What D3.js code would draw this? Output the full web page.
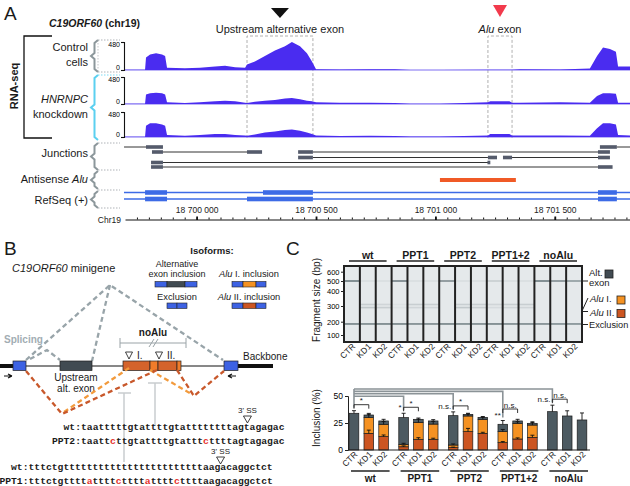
<!DOCTYPE html>
<html>
<head>
<meta charset="utf-8">
<script src="https://cdn.jsdelivr.net/npm/d3@7"></script>
<style>
  body { margin: 0; background: #fff; }
  svg { font-family: "Liberation Sans", Arial, sans-serif; }
  .mono { font-family: "Liberation Mono", "DejaVu Sans Mono", monospace; font-weight: bold; }
</style>
</head>
<body>
<svg id="fig" width="630" height="486"></svg>
<script>
// ---------------- Panel A data: RNA-seq coverage on chr19 (reads, scale 0-480)
const covPos = [18699700, 18699784, 18699788, 18699805, 18699830, 18699855, 18699868, 18699876,
  18699951, 18700014, 18700077, 18700119, 18700161, 18700203, 18700211, 18700244, 18700286,
  18700328, 18700370, 18700399, 18700433, 18700462, 18700483, 18700500, 18700600, 18700726,
  18700831, 18700894, 18701019, 18701220, 18701230, 18701310, 18701321, 18701354, 18701522,
  18701647, 18701677, 18701702, 18701731, 18701756, 18701765, 18701815];
const covControl = [5, 5, 216, 264, 288, 264, 240, 38, 29, 38, 58, 72, 48, 38, 96, 144, 240,
  336, 408, 480, 408, 288, 144, 14, 10, 14, 14, 0, 0, 5, 5, 5, 5, 14, 10, 24, 240, 384, 360, 312, 58, 58];
const covKD1 = [5, 5, 168, 192, 200, 192, 168, 29, 19, 29, 48, 58, 48, 24, 19, 38, 58,
  72, 96, 106, 86, 58, 48, 29, 24, 24, 19, 5, 5, 29, 48, 48, 24, 24, 29, 24, 144, 192, 192, 182, 24, 24];
const covKD2 = [5, 5, 216, 264, 264, 240, 216, 38, 24, 38, 58, 58, 38, 29, 24, 48, 86,
  106, 134, 144, 120, 86, 58, 29, 19, 24, 19, 10, 10, 29, 58, 58, 29, 29, 29, 24, 168, 264, 264, 240, 38, 29];
const covScaleTicks = [0, 480];

// junction reads: [row, start, end]
const junctionLines = [
  [0, 18699696, 18699796], [0, 18701760, 18701815],
  [1, 18699859, 18700211], [1, 18700487, 18701681],
  [2, 18700487, 18701220], [2, 18701321, 18701681],
  [3, 18699859, 18701224],
  [4, 18699859, 18701681]];
const junctionBlocks = [
  [0, 18699788, 18699859], [0, 18701689, 18701760],
  [1, 18699813, 18699859], [1, 18700211, 18700274], [1, 18700425, 18700487], [1, 18701681, 18701731],
  [2, 18700425, 18700487], [2, 18701220, 18701258], [2, 18701283, 18701321], [2, 18701681, 18701731],
  [3, 18699809, 18699859], [3, 18701218, 18701230],
  [4, 18699809, 18699859], [4, 18701681, 18701742]];
const antisenseAlu = [18701019, 18701337];
const refseqBlocks = [
  [0, 18699784, 18699876], [0, 18700278, 18700487], [0, 18701681, 18701760],
  [1, 18699784, 18699876], [1, 18700211, 18700487], [1, 18701681, 18701760]];
const exonBoxes = [[18700211, 18700487, "Upstream alternative exon"], [18701220, 18701321, "Alu exon"]];
const genomeTicks = [18700000, 18700500, 18701000, 18701500];

// ---------------- Panel C data
const groups = ["wt", "PPT1", "PPT2", "PPT1+2", "noAlu"];
const conditions = ["CTR", "KD1", "KD2"];
const gelSizeTicks = [100, 200, 300, 400, 500, 600];
// band intensity per lane (15 lanes, group order)
const bandAltExon = [0.85, 0.08, 0.08, 0.8, 0.08, 0.08, 0.7, 0.08, 0.08, 0.2, 0.08, 0.08, 0.85, 0.7, 0.6];
const bandAluI = [0, 0.2, 0.15, 0.05, 0.2, 0.2, 0, 0.2, 0.2, 0.15, 0.2, 0.2, 0, 0, 0];
const bandAluII = [0, 0.25, 0.2, 0.05, 0.15, 0.15, 0, 0.25, 0.2, 0.1, 0.15, 0.15, 0, 0, 0];
const bandExclusion = [0.8, 0.75, 0.8, 0.8, 0.75, 0.75, 0.8, 0.75, 0.75, 0.8, 0.75, 0.75, 0.75, 0.7, 0.7];
const bandSizes = [500, 310, 290, 183];
// inclusion (%) per isoform, 15 bars
const altExonPct = [34.0, 2.4, 3.1, 24.8, 2.8, 2.9, 27.2, 1.5, 1.8, 6.8, 2.2, 1.6, 35.5, 31.5, 27.8];
const aluIPct = [0, 14.6, 11.4, 2.2, 15.7, 14.1, 2.4, 14.5, 13.0, 10.2, 14.5, 11.4, 0, 0, 0];
const aluIIPct = [0, 15.4, 12.4, 3.0, 9.9, 9.9, 2.2, 17.0, 15.4, 6.8, 10.2, 11.7, 0, 0, 0];
const altExonErr = [2.4, 1.5, 1.5, 4.0, 1.2, 1.2, 3.5, 1.0, 0.8, 3.5, 1.5, 0.8, 6.0, 4.8, 6.5];
const aluIErr = [0, 3.0, 2.5, 1.0, 3.0, 2.5, 1.0, 2.0, 2.0, 2.0, 1.5, 3.0, 0, 0, 0];
const aluIIErr = [0, 3.0, 1.5, 0.8, 1.5, 1.0, 0.5, 3.0, 1.0, 1.0, 1.0, 2.0, 0, 0, 0];
const barTicks = [0, 25, 50];
const sigCtrVsWt = ["*", "n.s.", "**", "n.s."];      // PPT1, PPT2, PPT1+2, noAlu CTR vs wt CTR
const sigKd1VsCtr = ["*", "*", "*", "n.s.", "n.s."];  // KD1 vs CTR in each group

// ---------------- Panel B data
const seqPairs = [
  { label: ["wt:", "PPT2:"], seq: ["taatttttgtattttgtattttttttagtagagac", "taattcttgtattttgtatttcttttagtagagac"], ss: 28.6 },
  { label: ["wt:", "PPT1:"], seq: ["tttctgttttttttttttttttttttttttaagacaggctct", "tttctgttttattttcttttattttcttttaagacaggctct"], ss: 33 }];

const svg = d3.select("#fig");

function label(g, x, y, parts, opt) {
  opt = opt || {};
  var t = g.append("text").attr("x", x).attr("y", y)
    .attr("font-size", opt.size || 10)
    .attr("text-anchor", opt.anchor || "start")
    .attr("fill", opt.fill || "#1a1a1a");
  if (opt.weight) t.attr("font-weight", opt.weight);
  if (opt.transform) t.attr("transform", opt.transform);
  if (opt.cls) t.attr("class", opt.cls);
  (Array.isArray(parts) ? parts : [[parts]]).forEach(function (p) {
    var ts = t.append("tspan").text(p[0]);
    if (p[1] === "i") ts.attr("font-style", "italic");
    if (p[1] === "r") ts.attr("fill", "#e5322d");
  });
  return t;
}

// =============== PANEL A ===============
var A = svg.append("g");
label(A, 4, 20, "A", { size: 19 });
label(A, 49, 27, [["C19ORF60", "i"], [" (chr19)"]], { size: 10.5, weight: "bold" });

var gx = d3.scaleLinear().domain([18699700, 18701815]).range([125, 630]);

// RNA-seq bracket
A.append("path").attr("d", "M52,36H24V138H52").attr("fill", "none").attr("stroke", "#111").attr("stroke-width", 1.3);
label(A, 0, 0, "RNA-seq", { size: 11, weight: "bold", anchor: "middle", transform: "translate(18,86) rotate(-90)" });

// braces + dotted guides
function brace(y0, y1, col, dotted) {
  var ym = (y0 + y1) / 2;
  A.append("path").attr("d", "M98," + y0 + "L94.5," + (y0 + 3) + "L94.5," + (ym - 3) + "L91," + ym +
      "L94.5," + (ym + 3) + "L94.5," + (y1 - 3) + "L98," + y1)
    .attr("fill", "none").attr("stroke", col).attr("stroke-width", 2);
  dotted.forEach(function (yy) {
    A.append("line").attr("x1", 98).attr("x2", 120).attr("y1", yy).attr("y2", yy)
      .attr("stroke", col === "#5bd0f0" ? "#5bd0f0" : "#9aa0a4").attr("stroke-width", 0.8).attr("stroke-dasharray", "1.5,1.5");
  });
}
brace(40, 72, "#8c979b", [40, 72]);
A.append("line").attr("x1", 98).attr("x2", 98).attr("y1", 40).attr("y2", 72).attr("stroke", "#9aa0a4").attr("stroke-width", 0.6).attr("stroke-dasharray", "1.5,1.5");
brace(75, 140, "#5bd0f0", [75]);
brace(143, 170, "#8c979b", [143, 170]);
brace(171, 189, "#8c979b", [190]);
brace(191, 208, "#8c979b", [208]);

label(A, 88, 51, "Control", { size: 11, anchor: "end" });
label(A, 88, 66, "cells", { size: 11, anchor: "end" });
label(A, 88, 103, [["HNRNPC", "i"]], { size: 11, anchor: "end" });
label(A, 88, 118, "knockdown", { size: 11, anchor: "end" });
label(A, 88, 157, "Junctions", { size: 11, anchor: "end" });
label(A, 88, 183, [["Antisense "], ["Alu", "i"]], { size: 11, anchor: "end" });
label(A, 88, 204, "RefSeq (+)", { size: 11, anchor: "end" });

// dashed exon boxes (behind tracks)
exonBoxes.forEach(function (b, i) {
  var x0 = gx(b[0]), x1 = gx(b[1]);
  A.append("path").attr("d", "M" + x0 + ",138V36H" + x1 + "V138")
    .attr("fill", "none").attr("stroke", "#9c9c9c").attr("stroke-width", 0.8).attr("stroke-dasharray", "3,2");
  var cx = (x0 + x1) / 2;
  if (i === 0) {
    label(A, cx, 33, b[2], { size: 11, anchor: "middle" });
    A.append("path").attr("d", "M" + (cx - 9) + ",8L" + (cx + 9) + ",8L" + cx + ",18Z").attr("fill", "#111");
  } else {
    label(A, cx, 33, [["Alu", "i"], [" exon"]], { size: 11, anchor: "middle" });
    A.append("path").attr("d", "M" + (cx - 7) + ",5L" + (cx + 7) + ",5L" + cx + ",17Z").attr("fill", "#f23a4c");
  }
});

// coverage tracks
var tracks = [
  { vals: covControl, top: 42, base: 70 },
  { vals: covKD1, top: 77, base: 104 },
  { vals: covKD2, top: 112, base: 137 }];
tracks.forEach(function (t) {
  var y = d3.scaleLinear().domain([0, 480]).range([t.base, t.top]);
  var area = d3.area().x(function (d, i) { return gx(covPos[i]); }).y0(t.base).y1(function (d) { return y(d); });
  A.append("line").attr("x1", 125).attr("x2", 630).attr("y1", t.base).attr("y2", t.base)
    .attr("stroke", "#7d6cf2").attr("stroke-width", 1);
  A.append("path").datum(t.vals).attr("d", area).attr("fill", "#4a2cf0");
  var ax = A.append("g").attr("transform", "translate(124,0)")
    .call(d3.axisLeft(y).tickValues(covScaleTicks).tickSize(3).tickSizeOuter(3).tickPadding(1));
  ax.selectAll("text").attr("font-size", 7).attr("font-family", "Liberation Sans, Arial, sans-serif")
    .attr("dy", function (d) { return d === 0 ? "-0.1em" : "0.6em"; });
  ax.selectAll("path, line").attr("stroke", "#111").attr("stroke-width", 1.1);
});

// junctions
var jRowY = [147, 152, 157.5, 162.5, 167];
A.selectAll(".jl").data(junctionLines).enter().append("line")
  .attr("x1", function (d) { return gx(d[1]); }).attr("x2", function (d) { return gx(d[2]); })
  .attr("y1", function (d) { return jRowY[d[0]]; }).attr("y2", function (d) { return jRowY[d[0]]; })
  .attr("stroke", "#333").attr("stroke-width", 1);
A.selectAll(".jb").data(junctionBlocks).enter().append("rect")
  .attr("x", function (d) { return gx(d[1]); }).attr("width", function (d) { return gx(d[2]) - gx(d[1]); })
  .attr("y", function (d) { return jRowY[d[0]] - 1.8; }).attr("height", 3.6)
  .attr("fill", "#555b6b");

// antisense Alu
A.append("rect").attr("x", gx(antisenseAlu[0])).attr("width", gx(antisenseAlu[1]) - gx(antisenseAlu[0]))
  .attr("y", 178).attr("height", 4).attr("fill", "#f05a26");

// RefSeq
var rRowY = [192.5, 199];
rRowY.forEach(function (yy) {
  A.append("line").attr("x1", 124).attr("x2", 630).attr("y1", yy).attr("y2", yy).attr("stroke", "#3d6be6").attr("stroke-width", 1.3);
});
A.selectAll(".rb").data(refseqBlocks).enter().append("rect")
  .attr("x", function (d) { return gx(d[1]); }).attr("width", function (d) { return gx(d[2]) - gx(d[1]); })
  .attr("y", function (d) { return rRowY[d[0]] - 2.3; }).attr("height", 4.6).attr("fill", "#3d6be6");

// genome axis
var minorTicks = d3.range(18699750, 18701815, 50);
var gAxis = A.append("g").attr("transform", "translate(0,219.5)")
  .call(d3.axisTop(gx).tickValues(minorTicks).tickSize(2).tickSizeOuter(0).tickFormat(""));
gAxis.selectAll("path, line").attr("stroke", "#111");
var fmt = d3.format(",");
var gMaj = A.append("g").attr("transform", "translate(0,220)")
  .call(d3.axisTop(gx).tickValues(genomeTicks).tickSize(3.5).tickPadding(4)
    .tickFormat(function (d) { return fmt(d).replace(/,/g, " "); }));
gMaj.select(".domain").remove();
gMaj.selectAll("line").attr("stroke", "#111").attr("stroke-width", 1.8);
gMaj.selectAll("text").attr("font-size", 8.5).attr("font-family", "Liberation Sans, Arial, sans-serif").attr("fill", "#222");
label(A, 121, 223, "Chr19", { size: 8.5, anchor: "end" });

// =============== PANEL B ===============
var B = svg.append("g");
label(B, 4, 255, "B", { size: 19 });
label(B, 12, 272, [["C19ORF60", "i"], [" minigene"]], { size: 11 });
label(B, 212, 254, "Isoforms:", { size: 9.5, weight: "bold", anchor: "middle" });
label(B, 177, 267, "Alternative", { size: 9, anchor: "middle" });
label(B, 177, 277, "exon inclusion", { size: 9, anchor: "middle" });
label(B, 177, 299.5, "Exclusion", { size: 9.3, anchor: "middle" });
label(B, 249, 277, [["Alu", "i"], [" I. inclusion"]], { size: 9.3, anchor: "middle" });
label(B, 249, 299.5, [["Alu", "i"], [" II. inclusion"]], { size: 9.3, anchor: "middle" });

var COL = { blue: "#3d62e3", dark: "#414b52", aluI: "#f59222", aluII: "#cc5521", aluA: "#d4632b", aluB: "#f07c2a" };
function isoBar(y, segs) {
  segs.forEach(function (s) {
    B.append("rect").attr("x", s[0]).attr("y", y).attr("width", s[1] - s[0]).attr("height", 5.5)
      .attr("fill", COL[s[2]]).attr("stroke", "#222").attr("stroke-width", 0.6);
  });
}
isoBar(281.5, [[155, 167, "blue"], [167, 185, "dark"], [185, 197, "blue"]]);
isoBar(303, [[167, 177, "blue"], [177, 187, "blue"]]);
isoBar(281.5, [[232, 243, "blue"], [243, 256, "aluI"], [256, 266, "blue"]]);
isoBar(303, [[232, 243, "blue"], [243, 256, "aluII"], [256, 266, "blue"]]);

// splicing (grey dashed) behind the gene
function dashed(pts, col) {
  B.append("path").attr("d", d3.line()(pts)).attr("fill", "none").attr("stroke", col)
    .attr("stroke-width", 2.3).attr("stroke-dasharray", "5,3.2");
}
dashed([[26, 360], [110, 285], [223, 360]], "#98a4a9");
dashed([[110, 285], [92, 361]], "#98a4a9");
dashed([[30, 359], [47, 350], [60, 360]], "#98a4a9");
label(B, 4, 343, "Splicing", { size: 10, weight: "bold", fill: "#a2adb3" });

// noAlu bracket
B.append("path").attr("d", "M120,338V348M120,343H186M186,338V348").attr("stroke", "#9aa3a7").attr("stroke-width", 1).attr("fill", "none");
B.append("path").attr("d", "M149,347L154,339M153,347L158,339").attr("stroke", "#9aa3a7").attr("stroke-width", 1);
label(B, 153, 336, "noAlu", { size: 10, weight: "bold", anchor: "middle" });

// grey T lines
B.append("path").attr("d", "M124,393V462M118,393H131M155,383V425M148,383H162")
  .attr("stroke", "#c9cdcf").attr("stroke-width", 1.5).attr("fill", "none");

// gene model
B.append("line").attr("x1", 0).attr("x2", 273).attr("y1", 366).attr("y2", 366).attr("stroke", "#111").attr("stroke-width", 1);
B.append("rect").attr("x", 0).attr("y", 364).attr("width", 13).attr("height", 4).attr("fill", "#111");
B.append("rect").attr("x", 238).attr("y", 364).attr("width", 35).attr("height", 4).attr("fill", "#111");
[[13, 26, "blue"], [60, 92, "dark"], [123, 150, "aluA"], [150, 158, "aluB"], [158, 177, "aluA"], [177, 181, "aluB"], [224, 238, "blue"]]
  .forEach(function (s) {
    B.append("rect").attr("x", s[0]).attr("y", 361).attr("width", s[1] - s[0]).attr("height", 9.5)
      .attr("fill", COL[s[2]]).attr("stroke", "#222").attr("stroke-width", 0.7);
  });
// triangles I, II
[[129, "I."], [159, "II."]].forEach(function (t) {
  B.append("path").attr("d", "M" + (t[0] - 3.5) + ",352L" + (t[0] + 3.5) + ",352L" + t[0] + ",359Z")
    .attr("fill", "#fff").attr("stroke", "#111").attr("stroke-width", 0.8);
  label(B, t[0] + 8, 359, t[1], { size: 10 });
});
label(B, 243, 360, "Backbone", { size: 10 });
label(B, 76, 381, "Upstream", { size: 10, anchor: "middle" });
label(B, 76, 392, "alt. exon", { size: 10, anchor: "middle" });
// primer arrows
B.append("path").attr("d", "M4,376H12M12,376L8,374M12,376L8,378").attr("stroke", "#111").attr("stroke-width", 1.2).attr("fill", "none");
B.append("path").attr("d", "M236,376H228M228,376L232,374M228,376L232,378").attr("stroke", "#111").attr("stroke-width", 1.2).attr("fill", "none");

// orange splicing
dashed([[64, 412], [129, 368]], "#f29a3c");
dashed([[150, 370], [193, 395]], "#f29a3c");
dashed([[26, 371], [62, 414], [157, 370]], "#c8582b");
dashed([[177, 370], [194, 396], [224, 371]], "#c8582b");

// sequences
var charW = 9.7 * 0.6;
seqPairs.forEach(function (p, k) {
  var x0 = k === 0 ? 81 : 28.5;
  var yRows = k === 0 ? [430, 444] : [470, 484];
  var ssY = k === 0 ? 413 : 454;
  var ssX = x0 + p.ss * charW;
  label(B, ssX, ssY, "3' SS", { size: 8, anchor: "middle" });
  B.append("path").attr("d", "M" + (ssX - 4) + "," + (ssY + 3) + "L" + (ssX + 4) + "," + (ssY + 3) + "L" + ssX + "," + (ssY + 10) + "Z")
    .attr("fill", "#fff").attr("stroke", "#111").attr("stroke-width", 0.8);
  p.seq.forEach(function (s, r) {
    label(B, x0, yRows[r], p.label[r], { size: 9.7, anchor: "end", cls: "mono" });
    var parts = [];
    var ref = p.seq[0];
    for (var i = 0; i < s.length; i++) {
      var red = r === 1 && s[i] !== ref[i];
      if (parts.length && (parts[parts.length - 1][1] === "r") === red) parts[parts.length - 1][0] += s[i];
      else parts.push([s[i], red ? "r" : ""]);
    }
    label(B, x0, yRows[r], parts, { size: 9.7, cls: "mono" });
  });
});

// =============== PANEL C ===============
var C = svg.append("g");
label(C, 286, 255, "C", { size: 19 });

var lanes = [];
groups.forEach(function (g) { conditions.forEach(function (c) { lanes.push(g + "|" + c); }); });

// gel
var gelX = d3.scaleBand().domain(lanes).range([344, 582]);
var gelY = d3.scaleLinear().domain(gelSizeTicks).range([335, 321.7, 306, 291, 281, 271.7]);
C.append("rect").attr("x", 344).attr("y", 266).attr("width", 238).attr("height", 76).attr("fill", "#e5e9eb");
var bandSets = [bandAltExon, bandAluI, bandAluII, bandExclusion];
bandSets.forEach(function (arr, b) {
  C.selectAll(null).data(arr).enter().append("rect")
    .attr("x", function (d, i) { return gelX(lanes[i]); }).attr("width", gelX.bandwidth())
    .attr("y", gelY(bandSizes[b]) - 0.8).attr("height", 1.6)
    .attr("fill", "#56666b").attr("opacity", function (d) { return d; });
});
C.selectAll(".sep").data(lanes.slice(1)).enter().append("line")
  .attr("x1", function (d) { return gelX(d); }).attr("x2", function (d) { return gelX(d); })
  .attr("y1", 266).attr("y2", 342).attr("stroke", "#222").attr("stroke-width", 2);
C.append("rect").attr("x", 344).attr("y", 266).attr("width", 238).attr("height", 76)
  .attr("fill", "none").attr("stroke", "#222").attr("stroke-width", 2);
var gAx = C.append("g").attr("transform", "translate(344,0)")
  .call(d3.axisLeft(gelY).tickValues(gelSizeTicks).tickSize(3).tickPadding(1.5));
gAx.select(".domain").remove();
gAx.selectAll("text").attr("font-size", 7.5).attr("font-family", "Liberation Sans, Arial, sans-serif");
gAx.selectAll("line").attr("stroke", "#222");
label(C, 0, 0, "Fragment size (bp)", { size: 10, anchor: "middle", transform: "translate(320,300) rotate(-90)" });

// gel group headers
var gelGroupX = d3.scaleBand().domain(groups).range([344, 582]);
groups.forEach(function (g) {
  var x0 = gelGroupX(g), w = gelGroupX.bandwidth();
  label(C, x0 + w / 2, 258.5, g, { size: 10.5, weight: "bold", anchor: "middle" });
  C.append("line").attr("x1", x0 + 5).attr("x2", x0 + w - 5).attr("y1", 261).attr("y2", 261).attr("stroke", "#222").attr("stroke-width", 1.4);
});
lanes.forEach(function (l) {
  var cx = gelX(l) + gelX.bandwidth() / 2;
  label(C, 0, 0, l.split("|")[1], { size: 8.5, anchor: "end", transform: "translate(" + (cx + 4) + ",347) rotate(-45)" });
});

// gel right annotations
C.append("path").attr("d", "M582,281H588M582,311L588,298M582,311.5H588M582,324.5H588").attr("stroke", "#222").attr("stroke-width", 1).attr("fill", "none");
label(C, 589, 276, "Alt.", { size: 9.5 });
label(C, 589, 286, "exon", { size: 9.5 });
label(C, 590, 302, [["Alu", "i"], [" I."]], { size: 9.5 });
label(C, 590, 315.5, [["Alu", "i"], [" II."]], { size: 9.5 });
label(C, 589, 328, "Exclusion", { size: 9.2 });
[[605, 270, COL.dark], [617, 296, COL.aluI], [617, 309.5, COL.aluII]].forEach(function (s) {
  C.append("rect").attr("x", s[0]).attr("y", s[1]).attr("width", 8).attr("height", 8).attr("fill", s[2]).attr("stroke", "#222").attr("stroke-width", 0.8);
});

// bar chart
var bx = d3.scaleBand().domain(groups).range([344, 592]);
var bxi = d3.scaleBand().domain(conditions).range([0, bx.bandwidth()]).padding(0.35);
var by = d3.scaleLinear().domain([0, 50]).range([450, 396]);
var rows = lanes.map(function (l, i) {
  return { g: l.split("|")[0], c: l.split("|")[1], aluII: aluIIPct[i], aluI: aluIPct[i], alt: altExonPct[i] };
});
function barX(r) { return bx(r.g) + bxi(r.c); }
var stack = d3.stack().keys(["aluII", "aluI", "alt"])(rows);
var fills = { aluII: COL.aluII, aluI: COL.aluI, alt: "#4c5a61" };
var errs = { aluII: aluIIErr, aluI: aluIErr, alt: altExonErr };
stack.forEach(function (s) {
  C.selectAll(null).data(s).enter().filter(function (d) { return d[1] > d[0]; }).append("rect")
    .attr("x", function (d) { return barX(d.data); }).attr("width", bxi.bandwidth())
    .attr("y", function (d) { return by(d[1]); }).attr("height", function (d) { return by(d[0]) - by(d[1]); })
    .attr("fill", fills[s.key]).attr("stroke", "#1a1a1a").attr("stroke-width", 0.7);
});
stack.forEach(function (s) {
  s.forEach(function (d, i) {
    var e = errs[s.key][i];
    if (!(d[1] > d[0]) || !e) return;
    var cx = barX(d.data) + bxi.bandwidth() / 2;
    C.append("path").attr("d", "M" + cx + "," + by(d[1]) + "V" + by(d[1] + e) + "M" + (cx - 2) + "," + by(d[1] + e) + "H" + (cx + 2))
      .attr("stroke", "#111").attr("stroke-width", 0.9).attr("fill", "none");
  });
});
var yAx = C.append("g").attr("transform", "translate(348,0)").call(d3.axisLeft(by).tickValues(barTicks).tickSize(3).tickPadding(2));
yAx.selectAll("text").attr("font-size", 8.5).attr("font-family", "Liberation Sans, Arial, sans-serif");
yAx.selectAll("path, line").attr("stroke", "#222").attr("stroke-width", 1);
C.append("line").attr("x1", 348).attr("x2", 590).attr("y1", 450).attr("y2", 450).attr("stroke", "#222").attr("stroke-width", 1.2);
label(C, 0, 0, "Inclusion (%)", { size: 10, anchor: "middle", transform: "translate(320,418) rotate(-90)" });

rows.forEach(function (r) {
  var cx = barX(r) + bxi.bandwidth() / 2;
  label(C, 0, 0, r.c, { size: 8.5, anchor: "end", transform: "translate(" + (cx + 4) + ",455) rotate(-45)" });
});
groups.forEach(function (g) {
  var x0 = bx(g), w = bx.bandwidth();
  C.append("line").attr("x1", x0 + 7).attr("x2", x0 + w - 4).attr("y1", 471).attr("y2", 471).attr("stroke", "#222").attr("stroke-width", 1.4);
  label(C, x0 + w / 2 + 1.5, 482, g, { size: 10, weight: "bold", anchor: "middle" });
});

// significance
function topOf(i) { return altExonPct[i] + aluIPct[i] + aluIIPct[i] + altExonErr[i]; }
function cxOf(i) { return barX(rows[i]) + bxi.bandwidth() / 2; }
var wtX = cxOf(0);
C.append("line").attr("x1", wtX).attr("x2", wtX).attr("y1", 389).attr("y2", by(topOf(0)) - 3).attr("stroke", "#8b9397").attr("stroke-width", 1.6);
sigCtrVsWt.forEach(function (s, k) {
  var gi = (k + 1) * 3;
  var lvl = 389 + (3 - k) * 2.4;
  var tx = cxOf(gi), yEnd = by(topOf(gi)) - 3;
  C.append("path").attr("d", "M" + wtX + "," + lvl + "H" + tx + "V" + yEnd)
    .attr("stroke", "#8b9397").attr("stroke-width", 1.6).attr("fill", "none");
  label(C, tx - 2, yEnd, s, { size: 8, anchor: "end" });
});
sigKd1VsCtr.forEach(function (s, k) {
  var a = k * 3, b = k * 3 + 1;
  var yb = Math.min(by(topOf(a)), by(topOf(b))) - 6;
  yb = Math.min(yb, 409);
  var xa = cxOf(a), xb = cxOf(b);
  C.append("path").attr("d", "M" + xa + "," + (yb + 4) + "V" + yb + "H" + xb + "V" + (yb + 4))
    .attr("stroke", "#222").attr("stroke-width", 0.9).attr("fill", "none");
  label(C, (xa + xb) / 2, yb - 1.5, s, { size: 8, anchor: "middle" });
});
</script>
</body>
</html>
